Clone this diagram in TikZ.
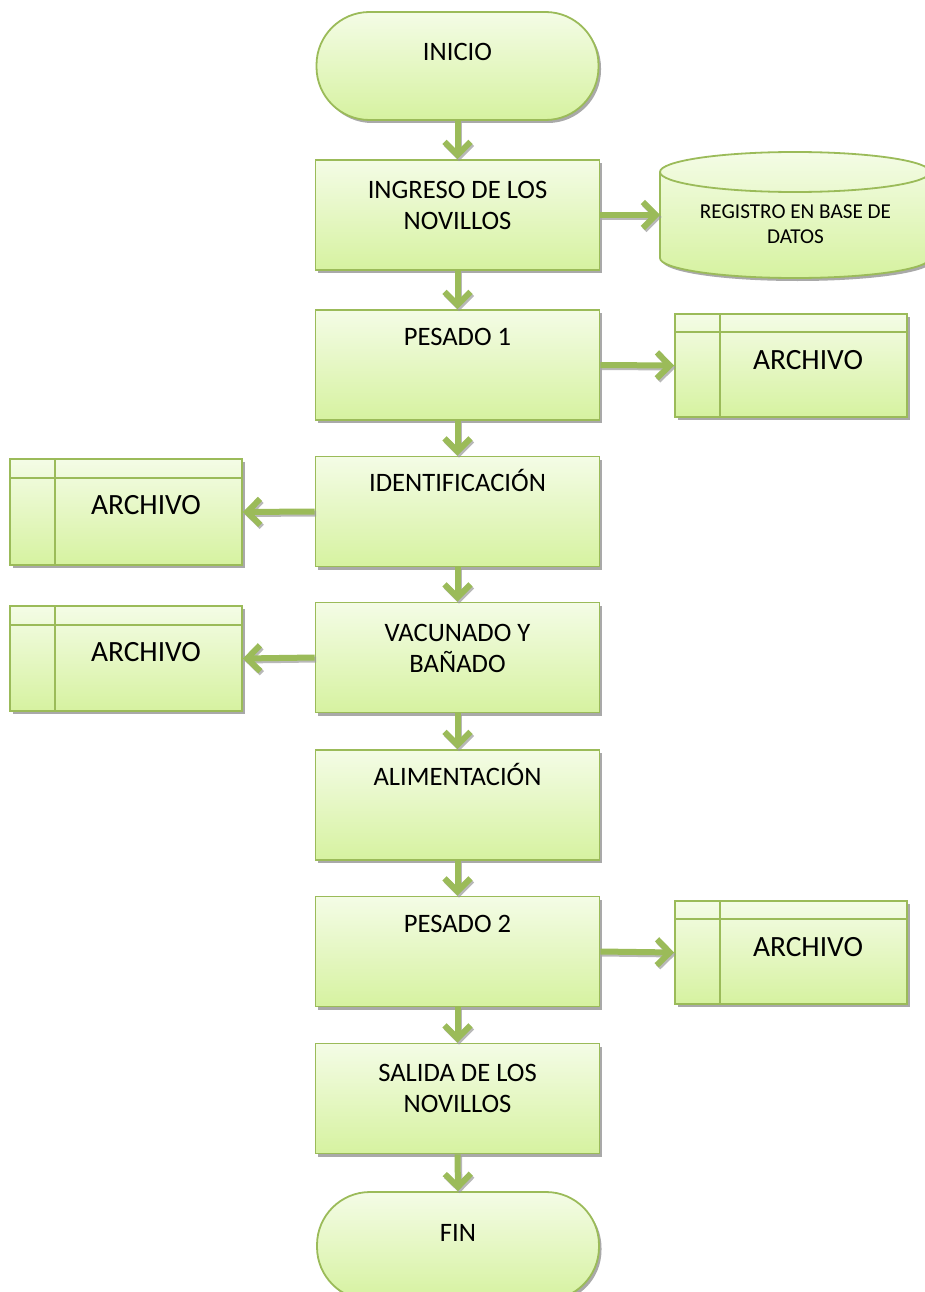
\documentclass[tikz,border=0pt]{standalone}
\usepackage{fontspec}
\setmainfont{Carlito}
\usetikzlibrary{arrows.meta,shadows}
\definecolor{edgegreen}{HTML}{9BBB59}
\definecolor{filltop}{HTML}{F4FCE6}
\definecolor{fillbot}{HTML}{D6F2A0}
\definecolor{shadegray}{HTML}{9A9A9A}
\tikzset{
  x=1pt, y=-1pt,
  skin/.style={draw=edgegreen, line width=1.8pt, top color=filltop, bottom color=fillbot,
    drop shadow={shadow xshift=2.5pt, shadow yshift=-3pt, fill=shadegray, opacity=0.85}},
  procbox/.style={skin, rectangle, minimum width=284pt, minimum height=110pt, inner sep=0pt},
  termbox/.style={skin, rectangle, rounded corners=53pt, minimum width=282pt, minimum height=108pt, inner sep=0pt},
  filebox/.style={skin, rectangle, minimum width=232pt, minimum height=104pt, inner sep=0pt},
  lbl/.style={font=\fontsize{26.6}{31}\selectfont, align=center, inner sep=0pt},
  onelbl/.style={lbl, text height=17.1pt, text depth=0pt},
  filelbl/.style={font=\fontsize{29.4}{34}\selectfont, inner sep=0pt, text height=18.9pt, text depth=0pt},
  dblbl/.style={font=\fontsize{21.2}{25}\selectfont, align=center, inner sep=0pt},
  flow/.style={draw=edgegreen, line width=6pt, line join=round,
    -{Straight Barb[length=13pt, width=26pt]}},
  flowshade/.style={flow, draw=shadegray, opacity=0.7, transform canvas={shift={(1.5pt,-2pt)}}},
}
\newcommand{\filelines}[2]{%
  \draw[draw=edgegreen, line width=1.8pt] ([yshift=-#2pt]#1.north west) -- ([yshift=-#2pt]#1.north east);
  \draw[draw=edgegreen, line width=1.8pt] ([xshift=45.5pt]#1.north west) -- ([xshift=45.5pt]#1.south west);
}
\begin{document}
\begin{tikzpicture}
\useasboundingbox (0,0) rectangle (925,1292);

% main column
\node[termbox] (ini) at (457.5,66) {};
\node[onelbl] (iniT) at (457.5,52) {INICIO};

\node[procbox] (ing) at (457.5,215) {};
\node[lbl] (ingT) at (457.5,205.5) {INGRESO DE LOS\\NOVILLOS};

\node[procbox] (pes1) at (457.5,365) {};
\node[onelbl] (pes1T) at (457.5,337) {PESADO 1};

\node[procbox] (idn) at (457.5,511.5) {};
\node[onelbl, text height=20pt] (idnT) at (457.5,481.5) {IDENTIFICACIÓN};

\node[procbox] (vac) at (457.5,657.5) {};
\node[lbl] (vacT) at (457.5,648) {VACUNADO Y\\BAÑADO};

\node[procbox] (ali) at (457.5,805) {};
\node[onelbl, text height=20pt] (aliT) at (457.5,775.5) {ALIMENTACIÓN};

\node[procbox] (pes2) at (457.5,951.5) {};
\node[onelbl] (pes2T) at (457.5,924) {PESADO 2};

\node[procbox] (sal) at (457.5,1098.5) {};
\node[lbl] (salT) at (457.5,1088) {SALIDA DE LOS\\NOVILLOS};

\node[termbox] (fin) at (458,1246) {};
\node[onelbl] (finT) at (458,1233) {FIN};

% database cylinder
\begin{scope}[shift={(2.5pt,-3pt)}]
  \fill[shadegray, opacity=0.85] (660,172) -- (660,258)
    arc[start angle=180, end angle=360, x radius=135pt, y radius=20pt] -- (930,172)
    arc[start angle=0, end angle=180, x radius=135pt, y radius=20pt] -- cycle;
\end{scope}
\path[draw=edgegreen, line width=1.8pt, top color=filltop, bottom color=fillbot]
  (660,172) -- (660,258)
  arc[start angle=180, end angle=360, x radius=135pt, y radius=20pt] -- (930,172)
  arc[start angle=0, end angle=180, x radius=135pt, y radius=20pt] -- cycle;
\draw[draw=edgegreen, line width=1.8pt] (660,172)
  arc[start angle=180, end angle=360, x radius=135pt, y radius=20pt];
\node[dblbl] (db) at (795.5,224.5) {REGISTRO EN BASE DE\\DATOS};
\coordinate (dbin) at (660,215);

% file stores
\node[filebox, minimum height=103pt] (f1) at (791,365.5) {};
\filelines{f1}{19}
\node[filelbl] (f1T) at (808,360) {ARCHIVO};

\node[filebox, minimum height=106pt] (f2) at (126,512) {};
\filelines{f2}{20}
\node[filelbl] (f2T) at (146,505) {ARCHIVO};

\node[filebox, minimum height=105pt] (f3) at (126,658.5) {};
\filelines{f3}{20}
\node[filelbl] (f3T) at (146,652) {ARCHIVO};

\node[filebox, minimum height=103pt] (f4) at (791,952.5) {};
\filelines{f4}{19}
\node[filelbl] (f4T) at (808,947) {ARCHIVO};

% connectors
\foreach \a/\b in {ini.south/ing.north, ing.south/pes1.north, pes1.south/idn.north,
    idn.south/vac.north, vac.south/ali.north, ali.south/pes2.north,
    pes2.south/sal.north, sal.south/fin.north,
    ing.east/dbin, pes1.east/f1.west, idn.west/f2.east, vac.west/f3.east,
    pes2.east/f4.west} {
  \draw[flowshade] (\a) -- (\b);
  \draw[flow] (\a) -- (\b);
}
\end{tikzpicture}
\end{document}
